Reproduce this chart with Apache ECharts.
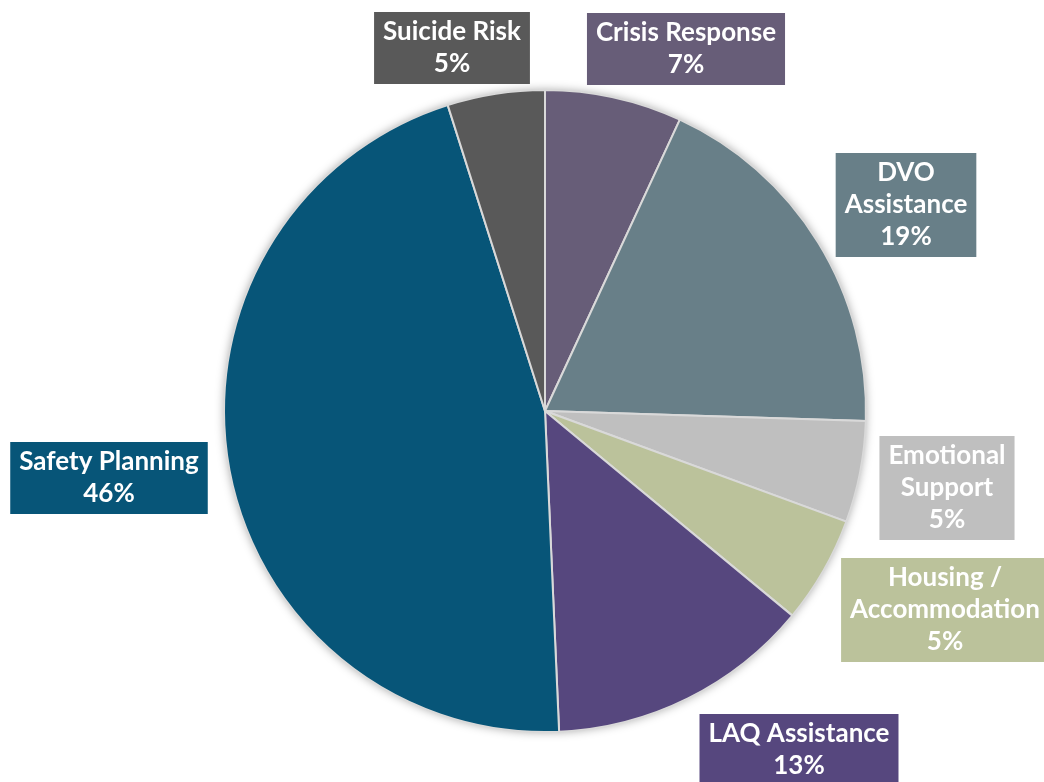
<!DOCTYPE html>
<html>
<head>
<meta charset="utf-8">
<script src="https://cdn.jsdelivr.net/npm/echarts@6/dist/echarts.min.js"></script>
<style>
  html, body { margin: 0; padding: 0; background: #fff; }
  #chart { width: 1044px; height: 782px; }
</style>
</head>
<body>
<div id="chart"></div>
<script>
  // clockwise from 12 o'clock
  const categories = ['Crisis Response', 'DVO\nAssistance', 'Emotional\nSupport', 'Housing /\nAccommodation', 'LAQ Assistance', 'Safety Planning', 'Suicide Risk'];
  const values = [6.9, 18.6, 5.1, 5.4, 13.3, 45.8, 4.9];
  const colors = ['#675D78', '#687F88', '#BFBFBF', '#BBC29B', '#56477E', '#075578', '#595959'];

  // label box centres (px)
  const labelPos = [[686, 49], [906, 205], [947, 488], [945, 610], [799, 750], [109, 478], [452, 48]];

  const chart = echarts.init(document.getElementById('chart'));
  const center = [545, 411];
  const radius = 321;

  chart.setOption({
    animation: false,
    series: [
      {
        // shadow behind the pie
        type: 'pie',
        silent: true,
        z: 1,
        center: center,
        radius: radius,
        label: { show: false },
        labelLine: { show: false },
        itemStyle: {
          color: '#ffffff',
          shadowBlur: 10,
          shadowColor: 'rgba(0,0,0,0.35)',
        },
        data: [{ value: 1 }],
      },
      {
        type: 'pie',
        z: 2,
        center: center,
        radius: radius,
        startAngle: 90,
        clockwise: true,
        itemStyle: {
          borderColor: '#D9D9D9',
          borderWidth: 2,
        },
        labelLine: { show: false },
        label: {
          show: true,
          position: 'inside',
          formatter: (p) => p.name + '\n' + Math.round(p.percent) + '%',
          color: '#ffffff',
          fontFamily: 'Lato',
          fontWeight: 'bold',
          fontSize: 26,
          lineHeight: 32,
          align: 'center',
          overflow: 'none',
          padding: [4, 9],
        },
        labelLayout: (params) => ({
          x: labelPos[params.dataIndex][0],
          y: labelPos[params.dataIndex][1],
          align: 'center',
          verticalAlign: 'middle',
        }),
        emphasis: { disabled: true },
        data: categories.map((name, i) => ({
          name: name,
          value: values[i],
          itemStyle: { color: colors[i] },
          label: { backgroundColor: colors[i] },
        })),
      },
    ],
  });
</script>
</body>
</html>
